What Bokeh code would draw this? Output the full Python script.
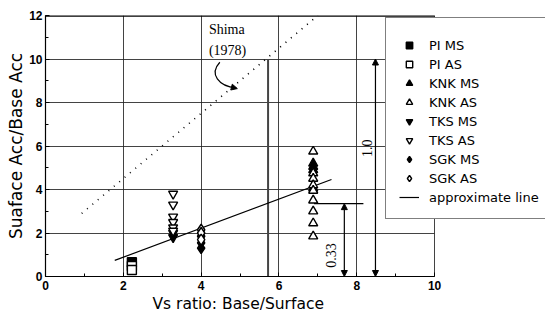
from bokeh.plotting import figure
from bokeh.models import (Range1d, SingleIntervalTicker, Legend, LegendItem, Arrow,
                          NormalHead, Label, Title)
from bokeh.embed import file_html
from bokeh.resources import INLINE

# ---- data ----
PI_MS_X = [2.22]
PI_MS_Y = [0.66]
PI_AS_X = [2.22, 2.22]
PI_AS_Y = [0.48, 0.3]
KNK_MS_X = [6.88, 6.88, 6.88, 6.88]
KNK_MS_Y = [5.2, 5.05, 4.9, 4.05]
KNK_AS_X = [6.88, 6.88, 6.88, 6.88, 6.88, 6.88, 6.88, 6.88, 6.88]
KNK_AS_Y = [5.75, 4.75, 4.5, 4.2, 3.95, 3.5, 3.0, 2.45, 1.85]
TKS_MS_X = [3.28, 3.28]
TKS_MS_Y = [2.0, 1.8]
TKS_AS_X = [3.28, 3.28, 3.28, 3.28, 3.28, 3.28]
TKS_AS_Y = [3.8, 3.3, 2.75, 2.5, 2.25, 2.1]
SGK_MS_X = [4.0, 4.0, 4.0]
SGK_MS_Y = [1.85, 1.55, 1.3]
SGK_AS_X = [4.0, 4.0, 4.0]
SGK_AS_Y = [2.15, 2.0, 1.7]
APPROX_X = [1.78, 7.35]
APPROX_Y = [0.74, 4.46]
SHIMA_X = [0.93, 7.0]
SHIMA_Y = [2.9, 12.0]

X_LABEL = "Vs ratio: Base/Surface"
Y_LABEL = "Suaface Acc/Base Acc"

# axis extents (the legend sits partly outside the 0-10 box)
X_MIN, X_MAX = 0, 10
Y_MIN, Y_MAX = 0, 12
X_VIEW_MAX = 12.85

# annotation geometry
V1_X = [5.72, 5.72]
V1_Y = [0.0, 10.0]
H033_X = [6.9, 8.17]
H033_Y = [3.35, 3.35]
ARR10_X = 8.48
ARR033_X = 7.68
TOP_X = [X_MIN, X_MAX]
TOP_Y = [Y_MAX, Y_MAX]

p = figure(frame_width=500, frame_height=261, output_backend="svg", toolbar_location=None,
           x_range=Range1d(X_MIN, X_VIEW_MAX), y_range=Range1d(Y_MIN, Y_MAX),
           min_border_left=45, min_border_top=15, min_border_right=0, min_border_bottom=10)
p.background_fill_color = "white"
p.border_fill_color = "white"
p.outline_line_color = None

for ax in (p.xaxis[0], p.yaxis[0]):
    ax.ticker = SingleIntervalTicker(interval=2, num_minor_ticks=2)
    ax.axis_label_text_font = "DejaVu Sans"
    ax.axis_label_text_font_size = "17px"
    ax.axis_label_text_font_style = "normal"
    ax.axis_label_text_color = "black"
    ax.axis_label_standoff = 0
    ax.major_label_text_font = "Liberation Sans"
    ax.major_label_text_font_size = "12px"
    ax.major_label_text_font_style = "bold"
    ax.major_label_text_color = "black"
    ax.major_label_standoff = 4
    ax.major_tick_in = 4
    ax.major_tick_out = 0
    ax.minor_tick_in = 3
    ax.minor_tick_out = 0
    ax.axis_line_color = "black"
    ax.axis_line_width = 1.2
    ax.major_tick_line_color = "black"
    ax.minor_tick_line_color = "black"

p.yaxis[0].axis_label = Y_LABEL
p.yaxis[0].major_label_standoff = 3
p.xaxis[0].bounds = (X_MIN, X_MAX)
p.add_layout(Title(text=X_LABEL, align="left", offset=107, text_font="DejaVu Sans",
                   text_font_size="15.5px", text_font_style="normal", text_color="black",
                   standoff=1), "below")

p.xgrid.ticker = SingleIntervalTicker(interval=2)
p.ygrid.ticker = SingleIntervalTicker(interval=2)
p.xgrid.bounds = (X_MIN, X_MAX)
p.ygrid.cross_bounds = (X_MIN, X_MAX)
p.grid.grid_line_color = "#222222"
p.grid.grid_line_width = 1
p.grid.grid_line_alpha = 0.85

# top border of the 0-10 box
p.line(TOP_X, TOP_Y, line_color="black", line_width=2.4)

# Shima dotted line
p.line(SHIMA_X, SHIMA_Y, line_color="black", line_width=1.6, line_dash="1 6")

# annotation lines
p.line(V1_X, V1_Y, line_color="#444444", line_width=2)
p.line(H033_X, H033_Y, line_color="black", line_width=1.2)
p.add_layout(Arrow(start=NormalHead(size=6, fill_color="black"), end=NormalHead(size=6, fill_color="black"),
                   x_start=ARR10_X, y_start=0, x_end=ARR10_X, y_end=10, line_width=1.2))
p.add_layout(Arrow(start=NormalHead(size=6, fill_color="black"), end=NormalHead(size=6, fill_color="black"),
                   x_start=ARR033_X, y_start=0, x_end=ARR033_X, y_end=3.35, line_width=1.2))

# curved arrow for Shima
p.bezier(x0=[4.48], y0=[9.85], x1=[4.9], y1=[8.66], cx0=[4.2], cy0=[9.3], cx1=[4.45], cy1=[8.75],
         line_color="black", line_width=1.2)
p.add_layout(Arrow(end=NormalHead(size=6, fill_color="black"), x_start=4.8, y_start=8.7,
                   x_end=4.93, y_end=8.64, line_width=1.2))

lab_kw = dict(text_font="Liberation Serif", text_font_size="14px", text_color="black",
              text_baseline="middle")
p.add_layout(Label(x=4.2, y=11.35, text="Shima", text_align="left", **lab_kw))
p.add_layout(Label(x=4.2, y=10.4, text="(1978)", text_align="left", **lab_kw))
p.add_layout(Label(x=8.27, y=5.9, text="1.0", angle=1.5708, text_align="center", **lab_kw))
p.add_layout(Label(x=7.35, y=0.97, text="0.33", angle=1.5708, text_align="center", **lab_kw))

# approximate line
r_line = p.line(APPROX_X, APPROX_Y, line_color="black", line_width=1.2)

# data markers
ms = dict(size=9, line_color="black", line_width=1.4)
r1 = p.scatter(PI_MS_X, PI_MS_Y, marker="square", fill_color="black", **ms)
r2 = p.scatter(PI_AS_X, PI_AS_Y, marker="square", fill_color="white", **ms)
r3 = p.scatter(KNK_MS_X, KNK_MS_Y, marker="triangle", fill_color="black", **ms)
r4 = p.scatter(KNK_AS_X, KNK_AS_Y, marker="triangle", fill_color="white", **ms)
r5 = p.scatter(TKS_MS_X, TKS_MS_Y, marker="inverted_triangle", fill_color="black", **ms)
r6 = p.scatter(TKS_AS_X, TKS_AS_Y, marker="inverted_triangle", fill_color="white", **ms)
r7 = p.scatter(SGK_MS_X, SGK_MS_Y, marker="diamond", fill_color="black", size=11, line_color="black", line_width=1.4)
r8 = p.scatter(SGK_AS_X, SGK_AS_Y, marker="diamond", fill_color="white", size=11, line_color="black", line_width=1.4)

legend = Legend(items=[
    LegendItem(label="PI MS", renderers=[r1]),
    LegendItem(label="PI AS", renderers=[r2]),
    LegendItem(label="KNK MS", renderers=[r3]),
    LegendItem(label="KNK AS", renderers=[r4]),
    LegendItem(label="TKS MS", renderers=[r5]),
    LegendItem(label="TKS AS", renderers=[r6]),
    LegendItem(label="SGK MS", renderers=[r7]),
    LegendItem(label="SGK AS", renderers=[r8]),
    LegendItem(label="approximate line", renderers=[r_line]),
], location=(340, 57))
legend.title = " "
legend.title_text_font_size = "2px"
legend.title_standoff = 4
legend.label_text_font = "DejaVu Sans"
legend.label_text_font_size = "13px"
legend.label_text_color = "black"
legend.label_height = 16
legend.glyph_height = 16
legend.glyph_width = 20
legend.spacing = 3
legend.padding = 13
legend.margin = 0
legend.label_standoff = 10
legend.border_line_color = "black"
legend.border_line_width = 1.2
legend.background_fill_color = "white"
legend.background_fill_alpha = 1.0
p.add_layout(legend, "center")

open("out.html", "w").write(file_html(p, INLINE))
